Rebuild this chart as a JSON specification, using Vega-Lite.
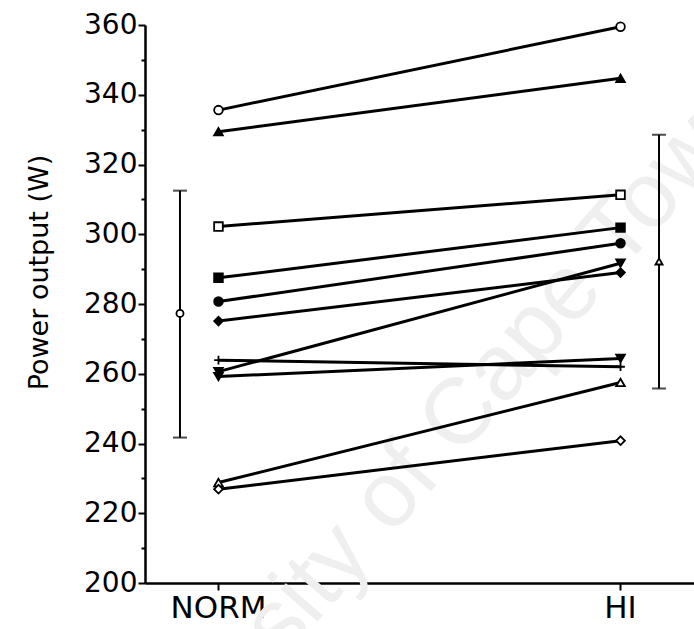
{
  "$schema": "https://vega.github.io/schema/vega-lite/v6.json",
  "width": 549,
  "height": 558,
  "autosize": {"type": "none"},
  "padding": {"left": 145, "top": 25, "right": 0, "bottom": 46},
  "background": "white",
  "config": {
    "view": {"stroke": null},
    "font": "DejaVu Sans",
    "axis": {"grid": false, "domainColor": "black", "tickColor": "black", "labelColor": "black", "titleColor": "black", "labelFont": "DejaVu Sans", "titleFont": "DejaVu Sans", "titleFontWeight": "normal"}
  },
  "datasets": {
    "pairs": [
      {"subject": "s1", "cond": "NORM", "power": 335.6}, {"subject": "s1", "cond": "HI", "power": 359.5},
      {"subject": "s2", "cond": "NORM", "power": 329.4}, {"subject": "s2", "cond": "HI", "power": 344.7},
      {"subject": "s3", "cond": "NORM", "power": 302.2}, {"subject": "s3", "cond": "HI", "power": 311.3},
      {"subject": "s4", "cond": "NORM", "power": 287.5}, {"subject": "s4", "cond": "HI", "power": 301.9},
      {"subject": "s5", "cond": "NORM", "power": 280.7}, {"subject": "s5", "cond": "HI", "power": 297.4},
      {"subject": "s6", "cond": "NORM", "power": 275.1}, {"subject": "s6", "cond": "HI", "power": 289.0},
      {"subject": "s7", "cond": "NORM", "power": 263.9}, {"subject": "s7", "cond": "HI", "power": 262.0},
      {"subject": "s8", "cond": "NORM", "power": 260.6}, {"subject": "s8", "cond": "HI", "power": 291.7},
      {"subject": "s9", "cond": "NORM", "power": 259.2}, {"subject": "s9", "cond": "HI", "power": 264.4},
      {"subject": "s10", "cond": "NORM", "power": 228.8}, {"subject": "s10", "cond": "HI", "power": 257.5},
      {"subject": "s11", "cond": "NORM", "power": 226.9}, {"subject": "s11", "cond": "HI", "power": 240.8}
    ],
    "summary": [
      {"cond": "NORM", "mean": 277.3, "lo": 241.7, "hi": 312.5},
      {"cond": "HI", "mean": 292.2, "lo": 255.8, "hi": 328.5}
    ]
  },
  "layer": [
    {
      "data": {"values": [{"label": "University of Cape Town"}]},
      "mark": {"type": "text", "angle": -49, "fontSize": 93, "font": "Liberation Sans", "color": "#efefef", "align": "center", "baseline": "middle"},
      "encoding": {
        "text": {"field": "label"},
        "x": {"datum": 0.49, "type": "quantitative", "scale": {"domain": [0, 1]}, "axis": null},
        "y": {"datum": 233, "type": "quantitative", "scale": {"domain": [200, 360]},
          "axis": {"orient": "left", "values": [210, 230, 250, 270, 290, 310, 330, 350], "labels": false, "domain": false, "tickSize": 4, "tickWidth": 2, "title": null, "grid": false}}
      }
    },
    {
      "layer": [
        {
          "data": {"name": "pairs"},
          "mark": {"type": "line", "color": "black", "strokeWidth": 3},
          "encoding": {
            "x": {"field": "cond", "type": "nominal", "sort": ["NORM", "HI"],
              "scale": {"type": "band", "domain": ["NORM", "HI"], "paddingInner": 0.7127, "paddingOuter": 0.0391},
              "axis": {"title": null, "labelAngle": 0, "tickSize": 7, "tickWidth": 2, "domainWidth": 2.5, "labelFontSize": 31, "labelPadding": 3, "bandPosition": 0.5}},
            "y": {"field": "power", "type": "quantitative", "scale": {"domain": [200, 360], "nice": false, "zero": false},
              "axis": {"orient": "left", "values": [200, 220, 240, 260, 280, 300, 320, 340, 360], "tickSize": 7, "tickWidth": 2, "domainWidth": 2.5, "labelFontSize": 28, "labelPadding": 1, "title": "Power output (W)", "titleFontSize": 27, "titlePadding": 30, "titleY": 247}},
            "detail": {"field": "subject"}
          }
        },
        {
          "data": {"name": "pairs"},
          "mark": {"type": "point", "stroke": "black", "strokeWidth": 1.8, "size": 75, "opacity": 1},
          "encoding": {
            "x": {"field": "cond", "type": "nominal", "sort": ["NORM", "HI"]},
            "y": {"field": "power", "type": "quantitative"},
            "shape": {"field": "subject", "type": "nominal", "legend": null,
              "scale": {"domain": ["s1", "s2", "s3", "s4", "s5", "s6", "s7", "s8", "s9", "s10", "s11"],
                "range": ["circle", "triangle-up", "square", "square", "circle", "diamond", "M-1,0H1M0,-1V1", "triangle-down", "triangle-down", "triangle-up", "diamond"]}},
            "fill": {"field": "subject", "type": "nominal", "legend": null,
              "scale": {"domain": ["s1", "s2", "s3", "s4", "s5", "s6", "s7", "s8", "s9", "s10", "s11"],
                "range": ["white", "black", "white", "black", "black", "black", "black", "black", "black", "white", "white"]}}
          }
        },
        {
          "data": {"name": "summary"},
          "mark": {"type": "rule", "color": "black", "strokeWidth": 2},
          "encoding": {
            "x": {"field": "cond", "type": "nominal", "sort": ["NORM", "HI"]},
            "xOffset": {"field": "cond", "type": "nominal", "scale": {"type": "band", "domain": ["NORM", "mid", "HI"], "paddingInner": 0, "paddingOuter": 0}},
            "y": {"field": "lo", "type": "quantitative"},
            "y2": {"field": "hi"}
          }
        },
        {
          "data": {"name": "summary"},
          "mark": {"type": "tick", "color": "black", "thickness": 2, "size": 14, "orient": "horizontal"},
          "encoding": {
            "x": {"field": "cond", "type": "nominal", "sort": ["NORM", "HI"]},
            "xOffset": {"field": "cond", "type": "nominal"},
            "y": {"field": "lo", "type": "quantitative"}
          }
        },
        {
          "data": {"name": "summary"},
          "mark": {"type": "tick", "color": "black", "thickness": 2, "size": 14, "orient": "horizontal"},
          "encoding": {
            "x": {"field": "cond", "type": "nominal", "sort": ["NORM", "HI"]},
            "xOffset": {"field": "cond", "type": "nominal"},
            "y": {"field": "hi", "type": "quantitative"}
          }
        },
        {
          "data": {"name": "summary"},
          "mark": {"type": "point", "stroke": "black", "strokeWidth": 1.8, "size": 50, "fill": "white", "opacity": 1},
          "encoding": {
            "x": {"field": "cond", "type": "nominal", "sort": ["NORM", "HI"]},
            "xOffset": {"field": "cond", "type": "nominal"},
            "y": {"field": "mean", "type": "quantitative"},
            "shape": {"field": "cond", "type": "nominal", "legend": null, "scale": {"domain": ["NORM", "HI"], "range": ["diamond", "square"]}}
          }
        }
      ]
    }
  ],
  "resolve": {"scale": {"x": "independent", "shape": "independent"}, "axis": {"y": "independent"}}
}
